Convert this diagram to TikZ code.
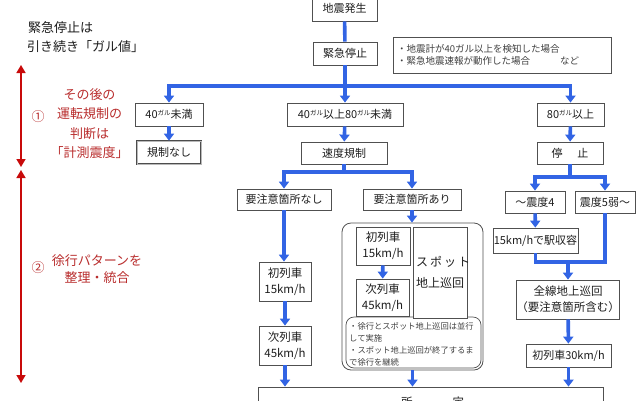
\documentclass[tikz,border=0pt]{standalone}
\usepackage{fontspec}
\setmainfont{Noto Sans CJK JP}
\usetikzlibrary{arrows.meta}
\definecolor{bl}{RGB}{50,100,228}
\definecolor{rtxt}{RGB}{185,45,45}
\definecolor{rline}{RGB}{200,10,10}
\definecolor{boxc}{RGB}{80,80,80}
\definecolor{txt}{RGB}{30,30,30}
\newcommand{\gal}{\raisebox{3.5pt}{\fontsize{6.5}{7}\selectfont ガル}}
\tikzset{
  box/.style={draw=boxc, line width=0.8pt, fill=white, inner sep=0pt, align=center, text=txt},
  barr/.style={draw=bl, line width=3.6pt, -{Triangle[length=7pt,width=10pt]}},
  bln/.style={draw=bl, line width=3.6pt},
  rarr/.style={draw=rline, line width=1.5pt, {Triangle[length=8pt,width=9pt]}-{Triangle[length=8pt,width=9pt]}},
  small/.style={font=\fontsize{9.5}{12}\selectfont},
  tiny/.style={font=\fontsize{8.3}{12}\selectfont}
}
\begin{document}
\begin{tikzpicture}[x=1pt,y=-1pt,font=\fontsize{11}{13.5}\selectfont]
\useasboundingbox (0,0) rectangle (640,400);
\clip (0,0) rectangle (640,400);
\fill[white] (0,0) rectangle (640,400);

% left annotations
\node[anchor=west, text=txt, font=\fontsize{13}{15}\selectfont, inner sep=0pt] (lab1) at (28,28) {緊急停止は};
\node[anchor=west, text=txt, font=\fontsize{13}{15}\selectfont, inner sep=0pt] (lab2) at (27,47) {引き続き「ガル値」};
\coordinate (r1a) at (21,65);
\coordinate (r1b) at (21,167);
\coordinate (r2a) at (21,170);
\coordinate (r2b) at (21,383);
\draw[rarr] (r1a) -- (r1b);
\draw[rarr] (r2a) -- (r2b);
\node[text=rtxt, font=\fontsize{13}{15}\selectfont, inner sep=0pt] (c1) at (38,117) {①};
\node[text=rtxt, font=\fontsize{13}{19.3}\selectfont, align=center, inner sep=0pt] (red1) at (89.5,123.5) {その後の\\運転規制の\\判断は\\「計測震度」};
\node[text=rtxt, font=\fontsize{13}{15}\selectfont, inner sep=0pt] (c2) at (38,268) {②};
\node[text=rtxt, font=\fontsize{13}{17.5}\selectfont, align=center, inner sep=0pt] (red2) at (97,269) {徐行パターンを\\整理・統合};

% top
\node[box, minimum width=65pt, minimum height=26pt] (hassei) at (344.5,8) {\raisebox{-4pt}{地震発生}};
\node[box, minimum width=64pt, minimum height=23pt] (kinkyu) at (345,53.5) {緊急停止};
\node[box, small, text=txt!85, minimum width=218pt, minimum height=36pt, align=left, text width=210pt] (note) at (502,55)
  {・地震計が40ガル以上を検知した場合\\・緊急地震速報が動作した場合\hspace{30pt}など};

% level 1
\node[box, minimum width=68pt, minimum height=23pt] (a40) at (169,114.5) {40\gal 未満};
\node[box, minimum width=116pt, minimum height=23pt] (a4080) at (345,114.5) {40\gal 以上80\gal 未満};
\node[box, minimum width=67pt, minimum height=23pt] (a80) at (570.5,114.5) {80\gal 以上};

% level 2
\node[box, draw=gray!60!black, line width=0.7pt, double=gray!55, double distance=0.9pt, minimum width=64pt, minimum height=23pt] (kisei) at (169,152.5) {規制なし};
\node[box, minimum width=86pt, minimum height=22pt] (sokudo) at (344,153) {速度規制};
\node[box, minimum width=66pt, minimum height=22pt] (teishi) at (570,153) {停\hspace{15pt}止};

% level 3
\node[box, minimum width=94pt, minimum height=21pt] (nashi) at (284,199.5) {要注意箇所なし};
\node[box, minimum width=98pt, minimum height=21pt] (ari) at (412,199.5) {要注意箇所あり};
\node[box, minimum width=60pt, minimum height=22pt] (s4) at (535,202) {～震度4};
\node[box, minimum width=60pt, minimum height=22pt] (s5) at (605,202) {震度5弱～};

% left column
\node[box, font=\fontsize{11.5}{16}\selectfont, minimum width=52pt, minimum height=39pt] (L1) at (285,281.5) {初列車\\15km/h};
\node[box, font=\fontsize{11.5}{16}\selectfont, minimum width=52pt, minimum height=39pt] (L2) at (285,345.5) {次列車\\45km/h};

% middle group
\node[draw=boxc, line width=0.8pt, rounded corners=9pt, minimum width=141pt, minimum height=147pt, inner sep=0pt] (grp) at (412.5,296.5) {};
\node[draw=boxc, line width=0.7pt, rounded corners=8pt, minimum width=135pt, minimum height=51pt, inner sep=0pt] (note2) at (413.5,342.5) {};
\node[tiny, text=txt!85, anchor=north west, align=left, inner sep=0pt, text width=140pt] (note2t) at (349,322)
  {・徐行とスポット地上巡回は並行\\して実施\\・スポット地上巡回が終了するま\\で徐行を継続};
\node[box, font=\fontsize{11.5}{16}\selectfont, minimum width=54pt, minimum height=38pt] (M1) at (383,246) {初列車\\15km/h};
\node[box, font=\fontsize{11.5}{16}\selectfont, minimum width=53pt, minimum height=37pt] (M2) at (382.5,297.5) {次列車\\45km/h};
\node[box, minimum width=54pt, minimum height=91pt] (spot) at (440,272.5) {};
\node[anchor=west, text=txt, font=\fontsize{12}{21}\selectfont, align=left, inner sep=0pt] (spott) at (416,272.5) {ス\,ポ\,ッ\,ト\\地上巡回};

% right column
\node[box, minimum width=85pt, minimum height=25pt] (eki) at (535.5,240.5) {15km/hで駅収容};
\node[box, font=\fontsize{11.5}{16}\selectfont, minimum width=102pt, minimum height=39pt] (zen) at (568,299.5) {全線地上巡回\\（要注意箇所含む）};
\node[box, minimum width=85pt, minimum height=23pt] (sho30) at (568.5,355.5) {初列車30km/h};

% bottom
\node[box, minimum width=345pt, minimum height=40pt] (base) at (430.5,407) {};
\node[text=txt, font=\fontsize{11.5}{14}\selectfont, inner sep=0pt] (baset) at (432.5,402.5) {所\hspace{40pt}定};

% junctions
\coordinate (j1) at (345,86);
\coordinate (j2) at (344,172);
\coordinate (j3) at (570,177);
\coordinate (j4) at (568,262);

% connectors
\draw[bln] (hassei) -- (kinkyu);
\draw[bln] (kinkyu) -- (j1);
\draw[barr] (j1) -| (a40);
\draw[barr] (j1) -- (a4080);
\draw[barr] (j1) -| (a80);
\draw[barr] (a40) -- (kisei);
\draw[barr] (a4080) -- (sokudo);
\draw[barr] (a80) -- (teishi);
\draw[bln] (sokudo) -- (j2);
\draw[barr] (j2) -| (nashi);
\draw[barr] (j2) -| (ari);
\draw[barr] (ari.south) -- (ari.south |- grp.north);
\draw[barr] (M1) -- (M2);
\draw[barr] (nashi.south) -- (nashi.south |- L1.north);
\draw[barr] (L1) -- (L2);
\draw[barr] (L2.south) -- (L2.south |- base.north);
\draw[barr] (grp.south) -- (grp.south |- base.north);
\draw[bln] (teishi) -- (j3);
\draw[barr] (j3) -| (s4);
\draw[barr] (j3) -| (s5);
\draw[barr] (s4) -- (eki);
\draw[bln] (eki.south) |- (j4);
\draw[bln] (s5.south) |- (j4);
\draw[barr] (j4) -- (zen);
\draw[barr] (zen) -- (sho30);
\draw[barr] (sho30.south) -- (sho30.south |- base.north);
\end{tikzpicture}
\end{document}
